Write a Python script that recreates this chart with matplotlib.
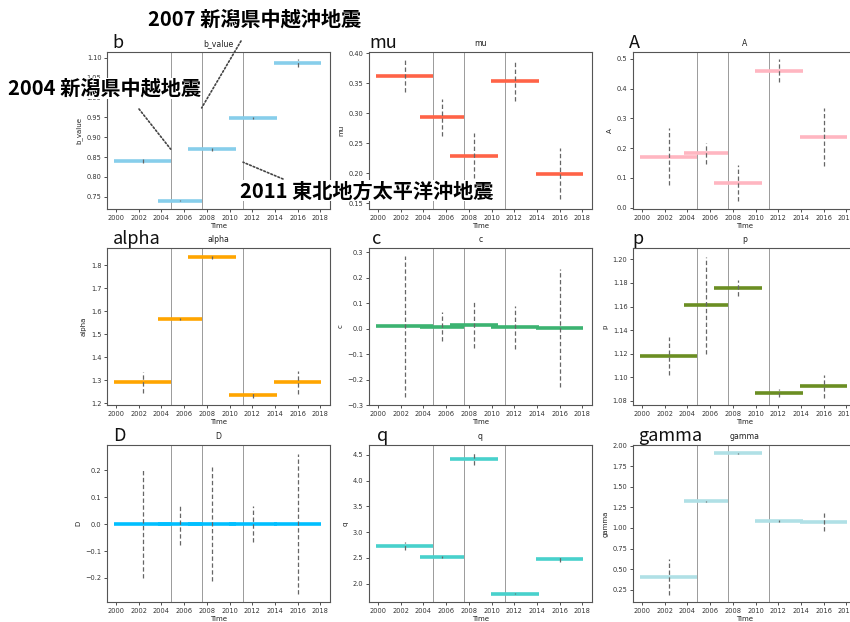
import matplotlib
matplotlib.use("Agg")
import matplotlib.pyplot as plt

plt.rcParams["font.family"] = ["DejaVu Sans"]

# analysis windows (decimal years)
win_start = [1999.85, 2003.65, 2006.38, 2009.97, 2013.88]
win_end = [2004.81, 2007.54, 2010.57, 2014.17, 2018.10]

# large earthquakes marked in every panel
events = [2004.81, 2007.54, 2011.19]
event_names = ["2004 新潟県中越地震", "2007 新潟県中越沖地震", "2011 東北地方太平洋沖地震"]

# estimated parameters per window and their standard errors
b_value = [0.840, 0.740, 0.870, 0.948, 1.087]
b_value_err = [0.006, 0.002, 0.004, 0.002, 0.011]

mu = [0.362, 0.293, 0.229, 0.353, 0.199]
mu_err = [0.027, 0.031, 0.038, 0.033, 0.043]

A = [0.171, 0.182, 0.082, 0.460, 0.238]
A_err = [0.095, 0.035, 0.061, 0.038, 0.098]

alpha = [1.291, 1.567, 1.835, 1.238, 1.292]
alpha_err = [0.045, 0.005, 0.007, 0.015, 0.050]

c = [0.009, 0.008, 0.014, 0.005, 0.003]
c_err = [0.276, 0.056, 0.090, 0.083, 0.233]

p = [1.1184, 1.1612, 1.1756, 1.0868, 1.0924]
p_err = [0.016, 0.041, 0.0065, 0.0035, 0.0095]

D = [0.0, 0.0, 0.0, 0.0, 0.0]
D_err = [0.200, 0.076, 0.210, 0.068, 0.260]

q = [2.727, 2.519, 4.430, 1.806, 2.474]
q_err = [0.075, 0.020, 0.120, 0.010, 0.060]

gamma = [0.408, 1.322, 1.908, 1.085, 1.077]
gamma_err = [0.220, 0.010, 0.005, 0.015, 0.110]

x_ticks = [2000, 2002, 2004, 2006, 2008, 2010, 2012, 2014, 2016, 2018]

panels = [
    ("b", "b_value", b_value, b_value_err, "skyblue", (0.719, 1.115)),
    ("mu", "mu", mu, mu_err, "tomato", (0.140, 0.402)),
    ("A", "A", A, A_err, "lightpink", (-0.005, 0.523)),
    ("alpha", "alpha", alpha, alpha_err, "orange", (1.193, 1.875)),
    ("c", "c", c, c_err, "mediumseagreen", (-0.300, 0.317)),
    ("p", "p", p, p_err, "olivedrab", (1.0766, 1.2096)),
    ("D", "D", D, D_err, "deepskyblue", (-0.289, 0.293)),
    ("q", "q", q, q_err, "mediumturquoise", (1.644, 4.694)),
    ("gamma", "gamma", gamma, gamma_err, "powderblue", (0.100, 2.008)),
]

W, H = 850, 622
fig = plt.figure(figsize=(W / 100, H / 100), dpi=100)

col_left = [107, 369, 633]
row_top = [52, 248, 445]
ax_w, ax_h = 223, 157
# horizontal nudge of each big panel letter relative to the axes' left edge (px)
letter_dx = [5, 0, -4, 6, 3, -1, 6, 8, 5]

axes = []
for i, (letter, name, vals, errs, color, ylim) in enumerate(panels):
    r, col = divmod(i, 3)
    left = col_left[col]
    top = row_top[r]
    ax = fig.add_axes([left / W, (H - top - ax_h) / H, ax_w / W, ax_h / H])
    axes.append(ax)

    for ev in events:
        ax.axvline(ev, color="#9a9a9a", lw=0.7, zorder=1)

    ax.hlines(vals, win_start, win_end, colors=color, lw=2.6, zorder=2)
    mids = [(s + e) / 2 for s, e in zip(win_start, win_end)]
    eb = ax.errorbar(mids, vals, yerr=errs, fmt="none", ecolor="#666666",
                     elinewidth=0.9, capsize=0, zorder=3)
    for lc in eb[2]:
        lc.set_linestyle((0, (3.5, 2.0)))

    ax.set_xlim(1999.2, 2018.85)
    ax.set_ylim(*ylim)
    ax.set_xticks(x_ticks)
    ax.tick_params(labelsize=4.8, length=2, width=0.6, pad=2, colors="#333333")
    for s in ax.spines.values():
        s.set_color("#555555")
        s.set_linewidth(0.8)
    ax.set_title(name, fontsize=5.6, pad=4, color="#222222")
    ax.set_xlabel("Time", fontsize=5.0, labelpad=2, color="#222222")
    ax.set_ylabel(name, fontsize=5.0, labelpad=3, color="#222222")

    fig.text((left + letter_dx[i]) / W, 1 - (top - 4) / H, letter,
             fontsize=13, family=["Noto Sans CJK JP", "DejaVu Sans"],
             ha="left", va="baseline", color="#111111")

# dotted leader lines from the event labels to the b-value panel
ax_b = axes[0]
leaders = [
    (events[0], 0.870, 139, 109),
    (events[1], 0.974, 241, 41),
    (events[2], 0.837, 283, 179),
]
for ev, yv, px, py in leaders:
    ax_b.annotate("", xy=(ev, yv), xycoords="data",
                  xytext=(px / W, 1 - py / H), textcoords="figure fraction",
                  arrowprops=dict(arrowstyle="-", color="#444444", lw=1.2,
                                  linestyle=(0, (1, 1.3)), shrinkA=0, shrinkB=0),
                  annotation_clip=False, zorder=6)

label_pos = [(8, 88), (148, 19), (240, 191)]
for name, (px, py) in zip(event_names, label_pos):
    fig.text(px / W, 1 - py / H, name, fontsize=14.5, fontweight="bold",
             family=["Noto Sans CJK JP", "DejaVu Sans"], ha="left", va="center",
             color="black", zorder=10,
             bbox=dict(facecolor="white", edgecolor="none", pad=0.0))

fig.savefig("out.png", dpi=100)
